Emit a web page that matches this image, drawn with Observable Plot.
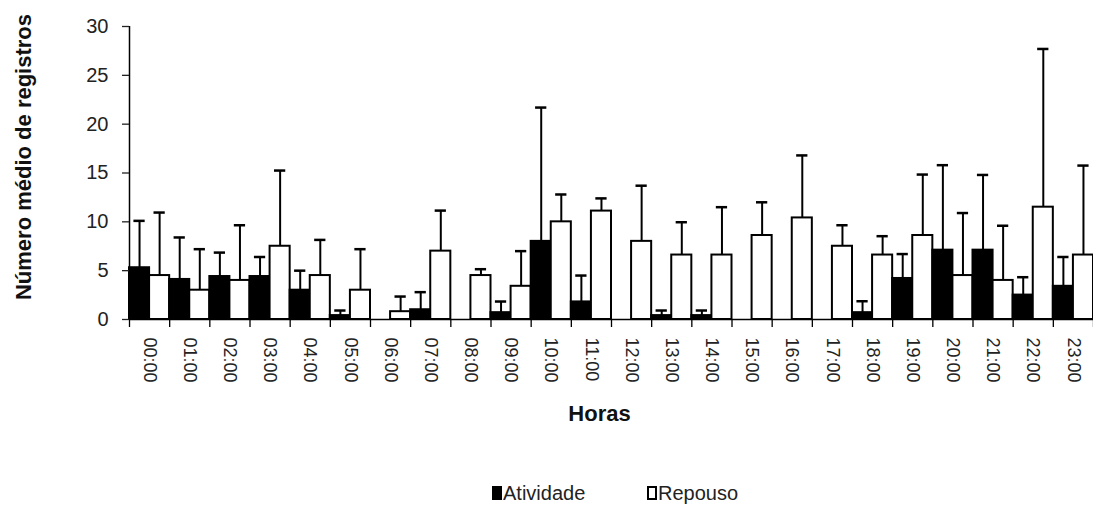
<!DOCTYPE html>
<html>
<head>
<meta charset="utf-8">
<script src="https://cdn.jsdelivr.net/npm/d3@7"></script>
<script src="https://cdn.jsdelivr.net/npm/@observablehq/plot@0.6"></script>
<style>
  html, body { margin: 0; padding: 0; background: #fff; overflow: hidden; }
  #legend { position: relative; height: 30px; font-family: "Liberation Sans", Arial, sans-serif; font-size: 20px; color: #222; }
  #legend .item { position: absolute; top: 0; display: flex; align-items: center; height: 30px; }
  #legend .sw { width: 10px; height: 14px; box-sizing: border-box; border: 2px solid #000; margin-right: 1px; }
</style>
</head>
<body>
<div id="chart"></div>
<div id="legend"></div>
<script>
const hours = ["00:00","01:00","02:00","03:00","04:00","05:00","06:00","07:00","08:00","09:00","10:00","11:00",
               "12:00","13:00","14:00","15:00","16:00","17:00","18:00","19:00","20:00","21:00","22:00","23:00"];
const series = ["Atividade", "Repouso"];
const atividadeMedia = [5.3, 4.1, 4.4, 4.4, 3.0, 0.4, 0, 1.0, 0, 0.7, 8.0, 1.8, 0, 0.4, 0.4, 0, 0, 0, 0.7, 4.2, 7.1, 7.1, 2.5, 3.4];
const atividadeDP    = [4.8, 4.3, 2.45, 2.0, 2.0, 0.52, 0, 1.8, 0, 1.14, 13.7, 2.7, 0, 0.52, 0.52, 0, 0, 0, 1.17, 2.5, 8.7, 7.7, 1.83, 3.0];
const repousoMedia   = [4.5, 3.0, 4.0, 7.5, 4.5, 3.0, 0.8, 7.0, 4.5, 3.4, 10.0, 11.1, 8.0, 6.6, 6.6, 8.6, 10.4, 7.5, 6.6, 8.6, 4.5, 4.0, 11.5, 6.6];
const repousoDP      = [6.45, 4.2, 5.65, 7.75, 3.65, 4.2, 1.55, 4.15, 0.65, 3.6, 2.8, 1.3, 5.7, 3.36, 4.9, 3.4, 6.4, 2.15, 1.93, 6.24, 6.4, 5.6, 16.2, 9.16];
const yTicks = [0, 5, 10, 15, 20, 25, 30];
const yTitle = "Número médio de registros";
const xTitle = "Horas";

// table built from the arrays: each hour is one unit on x, each series half a unit
const rows = hours.flatMap((h, i) => [
  {hora: h, serie: series[0], media: atividadeMedia[i], dp: atividadeDP[i], x1: i, x2: i + 0.5},
  {hora: h, serie: series[1], media: repousoMedia[i], dp: repousoDP[i], x1: i + 0.5, x2: i + 1}
]);
const errRows = rows.filter(d => d.dp > 0);
const capHalf = 0.14;

const font = "'Liberation Sans', Arial, sans-serif";

const chart = Plot.plot({
  width: 1093,
  height: 478,
  marginLeft: 129,
  marginRight: 0,
  marginTop: 26,
  marginBottom: 159,
  style: {fontFamily: font, background: "#fff", overflow: "visible"},
  x: {type: "linear", domain: [0, hours.length]},
  y: {domain: [0, 30]},
  color: {domain: series, range: ["#000", "#fff"]},
  marks: [
    Plot.rectY(rows, {x1: "x1", x2: "x2", y1: 0, y2: "media", fill: "serie", stroke: "#000", strokeWidth: 2}),
    Plot.ruleX(errRows, {x: d => (d.x1 + d.x2) / 2, y1: "media", y2: d => d.media + d.dp, stroke: "#000", strokeWidth: 2}),
    Plot.ruleY(errRows, {y: d => d.media + d.dp, x1: d => (d.x1 + d.x2) / 2 - capHalf, x2: d => (d.x1 + d.x2) / 2 + capHalf, stroke: "#000", strokeWidth: 2.5}),
    Plot.ruleX([0], {stroke: "#000", strokeWidth: 1.5}),
    Plot.ruleY([0], {stroke: "#000", strokeWidth: 1.5}),
    Plot.axisY({ticks: yTicks, tickSize: 7, tickPadding: 14, fontSize: 20, label: null, color: "#222", strokeWidth: 1.3}),
    Plot.axisX({ticks: d3.range(hours.length + 1), tickSize: 8, tickFormat: () => "", label: null, strokeWidth: 1.3}),
    Plot.text(hours, {x: (d, i) => i + 0.5, frameAnchor: "bottom", dy: 18, rotate: 90, textAnchor: "start",
                      lineAnchor: "middle", fontSize: 18, fill: "#222", ariaLabel: "rotulos-horas"}),
    Plot.text([yTitle], {frameAnchor: "left", dx: -106, dy: -16, rotate: -90, textAnchor: "middle", lineAnchor: "middle",
                         fontWeight: "bold", fontSize: 22, fill: "#111"}),
    Plot.text([xTitle], {frameAnchor: "bottom", dy: 101, dx: -12, textAnchor: "middle", fontWeight: "bold", fontSize: 22, fill: "#111"})
  ]
});
d3.select(chart).selectAll('g[aria-label="rotulos-horas"] text').style("letter-spacing", "3px");
document.getElementById("chart").appendChild(chart);

// legend
const legend = d3.select("#legend");
const lx = [492, 647];
series.forEach((s, k) => {
  const it = legend.append("div").attr("class", "item").style("left", lx[k] + "px");
  it.append("div").attr("class", "sw").style("background", k === 0 ? "#000" : "#fff");
  it.append("span").text(s);
});
</script>
</body>
</html>
